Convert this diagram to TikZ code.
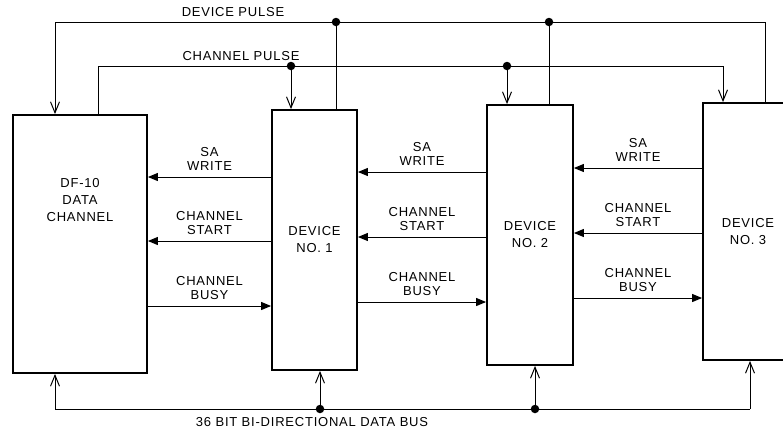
\documentclass[tikz,border=0pt]{standalone}
\usepackage{fontspec}
\setmainfont{Liberation Sans}[LetterSpace=6]
\usepackage{tikz}
\usetikzlibrary{arrows.meta, positioning, calc}

\tikzset{
  unitbox/.style={draw, line width=1.8pt, inner sep=0pt, align=center, font=\fontsize{13}{17}\selectfont},
  wire/.style={line width=1pt},
  sigarrow/.style={wire, -{Triangle[length=10pt, width=8pt]}},
  openarrow/.style={wire, -{Straight Barb[length=11pt, width=9pt]}},
  junction/.style={circle, fill, inner sep=0pt, minimum size=8.5pt},
  siglabel/.style={align=center, inner sep=1pt, font=\fontsize{13}{14}\selectfont}
}

\begin{document}
\begin{tikzpicture}[x=1pt, y=-1pt, font=\fontsize{13}{14}\selectfont]
\clip (0,0) rectangle (783,432);

% the four units
\node[unitbox, minimum width=134pt, minimum height=258pt] (df10) at (80,244) {};
\node[align=center, font=\fontsize{13}{17}\selectfont] (df10txt) at (80,200) {DF-10\\DATA\\CHANNEL};
\node[unitbox, minimum width=85pt, minimum height=260pt] (dev1) at (314.5,240) {DEVICE\\NO. 1};
\node[unitbox, minimum width=86pt, minimum height=260pt] (dev2) at (530,235) {DEVICE\\NO. 2};
\node[unitbox, minimum width=90pt, minimum height=257pt] (dev3) at (748,231.5) {DEVICE\\NO. 3};

% signals between neighbouring units
\foreach \src/\dst/\ya/\yb/\yc in {df10/dev1/177/241/306, dev1/dev2/172/237/302, dev2/dev3/168/233/298} {
  \draw[sigarrow] (\dst.west |- 0,\ya) -- (\src.east |- 0,\ya)
    node[midway, above=5pt, siglabel] {SA\\WRITE};
  \draw[sigarrow] (\dst.west |- 0,\yb) -- (\src.east |- 0,\yb)
    node[midway, above=5pt, siglabel] {CHANNEL\\START};
  \draw[sigarrow] (\src.east |- 0,\yc) -- (\dst.west |- 0,\yc)
    node[midway, above=5pt, siglabel] {CHANNEL\\BUSY};
}

% device pulse
\coordinate (dpl) at (55,22);
\coordinate (dpr) at (765,22);
\node[junction] (dpj1) at (336,22) {};
\node[junction] (dpj2) at (549,22) {};
\draw[openarrow] ([xshift=17pt]dev3.north) -- (dpr) -- (dpl) -- ([xshift=-25pt]df10.north);
\draw[wire] (dpj1) -- (dpj1 |- dev1.north);
\draw[wire] (dpj2) -- (dpj2 |- dev2.north);
\node (dplbl) at (233,12) {DEVICE PULSE};

% channel pulse
\coordinate (cpl) at (98,66);
\coordinate (cpr) at (723,66);
\node[junction] (cpj1) at (291,66) {};
\node[junction] (cpj2) at (507,66) {};
\draw[openarrow] ([xshift=18pt]df10.north) -- (cpl) -- (cpr) -- ([xshift=-25pt]dev3.north);
\draw[openarrow] (cpj1) -- (cpj1 |- dev1.north);
\draw[openarrow] (cpj2) -- (cpj2 |- dev2.north);
\node (cplbl) at (241,56) {CHANNEL PULSE};

% data bus
\coordinate (dbl) at (55,409);
\coordinate (dbr) at (750,409);
\node[junction] (dbj1) at (320,409) {};
\node[junction] (dbj2) at (535,409) {};
\draw[wire] (dbl) -- (dbr);
\draw[openarrow] (dbl) -- (dbl |- df10.south);
\draw[openarrow] (dbr) -- (dbr |- dev3.south);
\draw[openarrow] (dbj1) -- (dbj1 |- dev1.south);
\draw[openarrow] (dbj2) -- (dbj2 |- dev2.south);
\node (dblbl) at (312,422) {36 BIT BI-DIRECTIONAL DATA BUS};
\end{tikzpicture}
\end{document}
